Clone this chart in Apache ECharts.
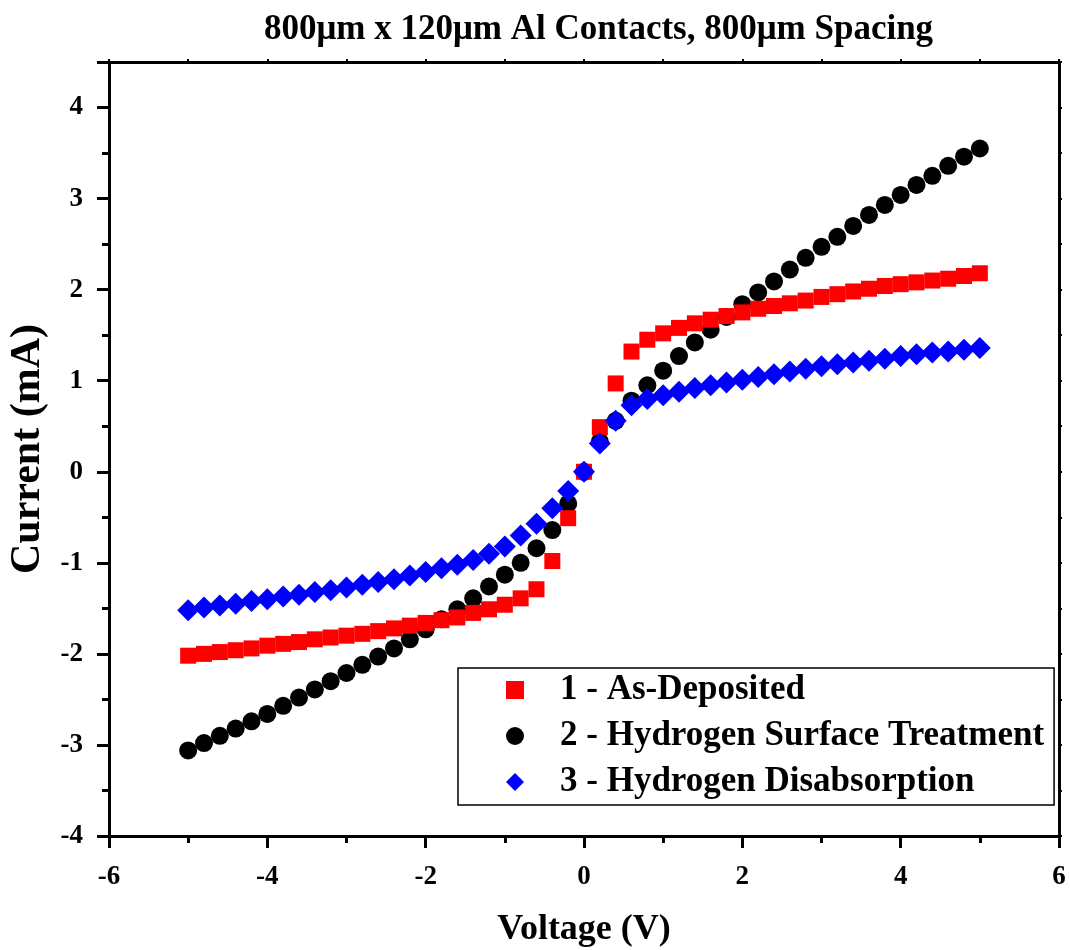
<!DOCTYPE html>
<html>
<head>
<meta charset="utf-8">
<script src="https://cdn.jsdelivr.net/npm/echarts@6/dist/echarts.min.js"></script>
<style>
  html, body { margin: 0; padding: 0; background: #fff; }
  #chart { width: 1070px; height: 950px; }
</style>
</head>
<body>
<div id="chart"></div>
<script>
const titleText = '800\u03bcm x 120\u03bcm Al Contacts, 800\u03bcm Spacing';
const xAxisName = 'Voltage (V)';
const yAxisName = 'Current (mA)';
const seriesNames = ['1 - As-Deposited', '2 - Hydrogen Surface Treatment', '3 - Hydrogen Disabsorption'];

const voltage = [-5.0, -4.8, -4.6, -4.4, -4.2, -4.0, -3.8, -3.6, -3.4, -3.2, -3.0, -2.8, -2.6, -2.4, -2.2, -2.0, -1.8, -1.6, -1.4, -1.2, -1.0, -0.8, -0.6, -0.4, -0.2, 0.0,
  0.2, 0.4, 0.6, 0.8, 1.0, 1.2, 1.4, 1.6, 1.8, 2.0, 2.2, 2.4, 2.6, 2.8, 3.0, 3.2, 3.4, 3.6, 3.8, 4.0, 4.2, 4.4, 4.6, 4.8, 5.0];

const asDeposited = [-2.02, -2.00, -1.98, -1.96, -1.94, -1.91, -1.89, -1.87, -1.84, -1.82, -1.80, -1.78, -1.75, -1.72, -1.69, -1.66, -1.63, -1.60, -1.55, -1.51, -1.46, -1.39, -1.29, -0.98, -0.51, 0.00,
  0.49, 0.97, 1.32, 1.45, 1.52, 1.58, 1.63, 1.67, 1.71, 1.75, 1.79, 1.82, 1.85, 1.88, 1.92, 1.95, 1.98, 2.01, 2.04, 2.06, 2.08, 2.10, 2.12, 2.15, 2.18];

const hydrogenTreatment = [-3.06, -2.98, -2.90, -2.82, -2.74, -2.66, -2.57, -2.48, -2.39, -2.30, -2.21, -2.12, -2.03, -1.94, -1.84, -1.73, -1.62, -1.51, -1.39, -1.26, -1.13, -1.00, -0.84, -0.64, -0.35, 0.00,
  0.33, 0.56, 0.78, 0.95, 1.11, 1.27, 1.42, 1.56, 1.70, 1.84, 1.97, 2.09, 2.22, 2.35, 2.47, 2.58, 2.70, 2.82, 2.93, 3.04, 3.15, 3.25, 3.36, 3.46, 3.55];

const hydrogenDisabsorption = [-1.52, -1.49, -1.47, -1.45, -1.42, -1.40, -1.37, -1.35, -1.32, -1.30, -1.27, -1.24, -1.21, -1.18, -1.14, -1.10, -1.06, -1.02, -0.97, -0.90, -0.82, -0.70, -0.57, -0.40, -0.21, 0.00,
  0.31, 0.56, 0.73, 0.80, 0.84, 0.88, 0.92, 0.95, 0.98, 1.01, 1.04, 1.07, 1.10, 1.13, 1.16, 1.18, 1.20, 1.22, 1.24, 1.27, 1.29, 1.31, 1.32, 1.34, 1.36];

const FONT = "'Liberation Serif', 'Times New Roman', serif";
const pair = (ys) => voltage.map((v, i) => [v, ys[i]]);

const chart = echarts.init(document.getElementById('chart'), null, { renderer: 'canvas' });

const axisLine = { show: true, onZero: false, lineStyle: { color: '#000', width: 3 } };

chart.setOption({
  backgroundColor: '#fff',
  animation: false,
  title: {
    text: titleText,
    left: 259,
    top: 7,
    textStyle: { fontFamily: FONT, fontWeight: 'bold', fontSize: 35, color: '#000' }
  },
  grid: { left: 109, right: 11, top: 62, bottom: 114, containLabel: false, outerBoundsMode: 'none' },
  legend: {
    orient: 'vertical',
    left: 458,
    top: 668,
    padding: [3, 10, 4, 48],
    itemGap: 8,
    itemWidth: 18,
    itemHeight: 18,
    borderColor: '#000',
    borderWidth: 1.5,
    backgroundColor: '#fff',
    textStyle: { fontFamily: FONT, fontWeight: 'bold', fontSize: 35, color: '#000', lineHeight: 38, padding: [0, 0, 0, 31] },
    data: [
      { name: seriesNames[0], icon: 'rect' },
      { name: seriesNames[1], icon: 'circle' },
      { name: seriesNames[2], icon: 'diamond' }
    ]
  },
  xAxis: [{
    type: 'value', min: -6, max: 6, interval: 2, position: 'bottom',
    name: xAxisName, nameLocation: 'middle', nameGap: 76,
    nameTextStyle: { fontFamily: FONT, fontWeight: 'bold', fontSize: 36, color: '#000' },
    axisLine: axisLine,
    axisTick: { show: true, inside: false, length: 12, lineStyle: { color: '#000', width: 3 } },
    minorTick: { show: true, splitNumber: 2, length: 7, lineStyle: { color: '#000', width: 3 } },
    axisLabel: { margin: 28, fontFamily: FONT, fontWeight: 'bold', fontSize: 27, color: '#000' },
    splitLine: { show: false }
  }, {
    type: 'value', min: -6, max: 6, interval: 1, position: 'top',
    axisLine: axisLine,
    axisTick: { show: true, inside: false, length: 3, lineStyle: { color: '#000', width: 2 } },
    axisLabel: { show: false },
    splitLine: { show: false }
  }],
  yAxis: [{
    type: 'value', min: -4, max: 4.5, interval: 1, position: 'left',
    name: yAxisName, nameLocation: 'middle', nameGap: 58, nameRotate: 90,
    nameTextStyle: { fontFamily: FONT, fontWeight: 'bold', fontSize: 42, color: '#000' },
    axisLine: axisLine,
    axisTick: { show: true, inside: false, length: 12, lineStyle: { color: '#000', width: 3 } },
    minorTick: { show: true, splitNumber: 2, length: 7, lineStyle: { color: '#000', width: 3 } },
    axisLabel: {
      margin: 26, fontFamily: FONT, fontWeight: 'bold', fontSize: 27, color: '#000',
      formatter: (v) => (v > 4 ? '' : String(v))
    },
    splitLine: { show: false }
  }, {
    type: 'value', min: -4, max: 4.5, interval: 0.5, position: 'right',
    axisLine: axisLine,
    axisTick: { show: true, inside: false, length: 3, lineStyle: { color: '#000', width: 2 } },
    axisLabel: { show: false },
    splitLine: { show: false }
  }],
  series: [
    {
      name: seriesNames[1], type: 'scatter', symbol: 'circle', symbolSize: 18,
      itemStyle: { color: '#000000', opacity: 1 },
      data: pair(hydrogenTreatment), z: 2
    },
    {
      name: seriesNames[0], type: 'scatter', symbol: 'rect', symbolSize: 16,
      itemStyle: { color: '#FF0000', opacity: 1 },
      data: pair(asDeposited), z: 3
    },
    {
      name: seriesNames[2], type: 'scatter', symbol: 'diamond', symbolSize: 22,
      itemStyle: { color: '#0000FF', opacity: 1 },
      data: pair(hydrogenDisabsorption), z: 4
    }
  ]
});
</script>
</body>
</html>
